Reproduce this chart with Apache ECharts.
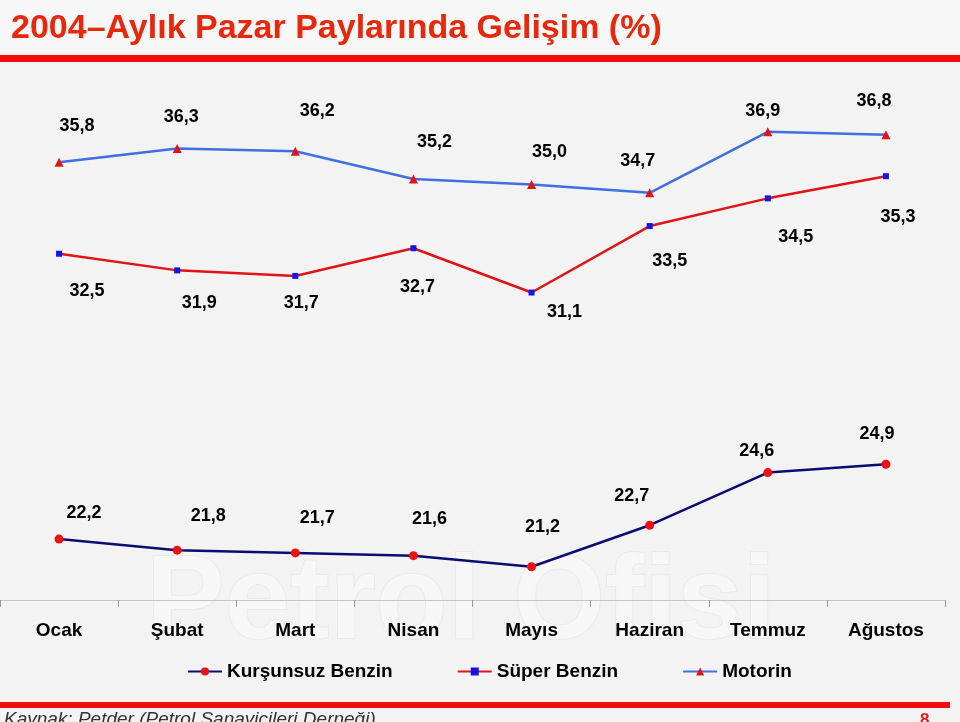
<!DOCTYPE html>
<html><head><meta charset="utf-8">
<script src="https://cdn.jsdelivr.net/npm/echarts@6/dist/echarts.min.js"></script>
<style>html,body{margin:0;padding:0;background:#f4f3f4;}#c{width:960px;height:722px;}</style>
</head><body><div id="c"></div>
<script>
var months = ['Ocak','Şubat','Mart','Nisan','Mayıs','Haziran','Temmuz','Ağustos'];
var kursunsuz = [22.2, 21.8, 21.7, 21.6, 21.2, 22.7, 24.6, 24.9];
var super_ = [32.5, 31.9, 31.7, 32.7, 31.1, 33.5, 34.5, 35.3];
var motorin = [35.8, 36.3, 36.2, 35.2, 35.0, 34.7, 36.9, 36.8];
var seriesNames = ['Kurşunsuz Benzin', 'Süper Benzin', 'Motorin'];
var titleText = '2004–Aylık Pazar Paylarında Gelişim (%)';
var sourceText = 'Kaynak: Petder (Petrol Sanayicileri Derneği)';
var pageNo = '8';

// label placement (style only)
var kursunsuzLabelOffsets = [[25,-26],[31,-34],[22,-35],[16,-37],[11,-40],[-18,-29],[-11,-22],[-9,-30]];
var superLabelOffsets = [[28,37],[22,33],[6,27],[4,39],[33,20],[20,35],[28,39],[12,41]];
var motorinLabelOffsets = [[18,-36],[4,-31],[22,-40],[21,-37],[18,-32],[-12,-32],[-5,-21],[-12,-34]];

function fmt(v){ return v.toFixed(1).replace('.', ','); }
function build(vals, offs){
  return vals.map(function(v,i){
    return {value: v, label: {offset: offs[i]}};
  });
}
var labelBase = {
  show: true, position: 'inside', color: '#000', fontSize: 18, fontWeight: 'bold',
  fontFamily: 'Liberation Sans, Arial, sans-serif',
  formatter: function(p){ return fmt(p.value); }
};

var chart = echarts.init(document.getElementById('c'), null, {renderer: 'canvas'});
chart.setOption({
  backgroundColor: '#f4f3f4',
  animation: false,
  grid: {left: -2, right: 15, top: 46, bottom: 122},
  xAxis: {
    type: 'category', data: months, boundaryGap: true,
    axisLine: {show: true, lineStyle: {color: '#c4c4c4', width: 1}},
    axisTick: {show: true, length: 7, lineStyle: {color: '#999'}},
    axisLabel: {color: '#000', fontSize: 19, fontWeight: 'bold', margin: 21,
      fontFamily: 'Liberation Sans, Arial, sans-serif'}
  },
  yAxis: {type: 'value', min: 20, max: 40, show: false, splitLine: {show: false}},
  legend: {
    left: 182, top: 657, itemWidth: 34, itemHeight: 10, itemGap: 64,
    textStyle: {color: '#000', fontSize: 19, fontWeight: 'bold',
      fontFamily: 'Liberation Sans, Arial, sans-serif'},
    data: seriesNames
  },
  graphic: [
    {type: 'rect', left: 0, top: 0, shape: {width: 960, height: 52}, style: {fill: '#f7f7f7'}, z: -10},
    {type: 'text', left: 145, top: 545, z: -5, silent: true,
      style: {text: 'Petrol Ofisi', font: 'bold 118px Liberation Sans, Arial, sans-serif',
        fill: '#f7f7f7', stroke: '#eaeaea', lineWidth: 2}},
    {type: 'text', left: 11, top: 12,
      style: {text: titleText, font: 'bold 34px Liberation Sans, Arial, sans-serif',
        fill: '#e8280c', shadowColor: 'rgba(80,15,0,0.95)', shadowOffsetX: 2, shadowOffsetY: 2, shadowBlur: 1}},
    {type: 'rect', left: 0, top: 55, shape: {width: 960, height: 7}, style: {fill: '#f20d0d'}},
    {type: 'rect', left: 0, top: 702, shape: {width: 950, height: 6}, style: {fill: '#f20d0d'}},
    {type: 'text', left: 4, top: 710,
      style: {text: sourceText, font: 'italic 19px Liberation Sans, Arial, sans-serif', fill: '#333'}},
    {type: 'text', left: 920, top: 712,
      style: {text: pageNo, font: 'bold 17px Liberation Sans, Arial, sans-serif', fill: '#e02020'}}
  ],
  series: [
    {name: seriesNames[0], type: 'line', data: build(kursunsuz, kursunsuzLabelOffsets),
      symbol: 'circle', symbolSize: 9,
      lineStyle: {color: '#0b0b74', width: 2.5}, itemStyle: {color: '#ee1111'},
      label: labelBase, z: 3},
    {name: seriesNames[1], type: 'line', data: build(super_, superLabelOffsets),
      symbol: 'rect', symbolSize: 6,
      lineStyle: {color: '#e01414', width: 2.5}, itemStyle: {color: '#1414e6'},
      label: labelBase, z: 3},
    {name: seriesNames[2], type: 'line', data: build(motorin, motorinLabelOffsets),
      symbol: 'triangle', symbolSize: 9,
      lineStyle: {color: '#3f6fe0', width: 2.5}, itemStyle: {color: '#e01414'},
      label: labelBase, z: 3}
  ]
});
</script></body></html>
